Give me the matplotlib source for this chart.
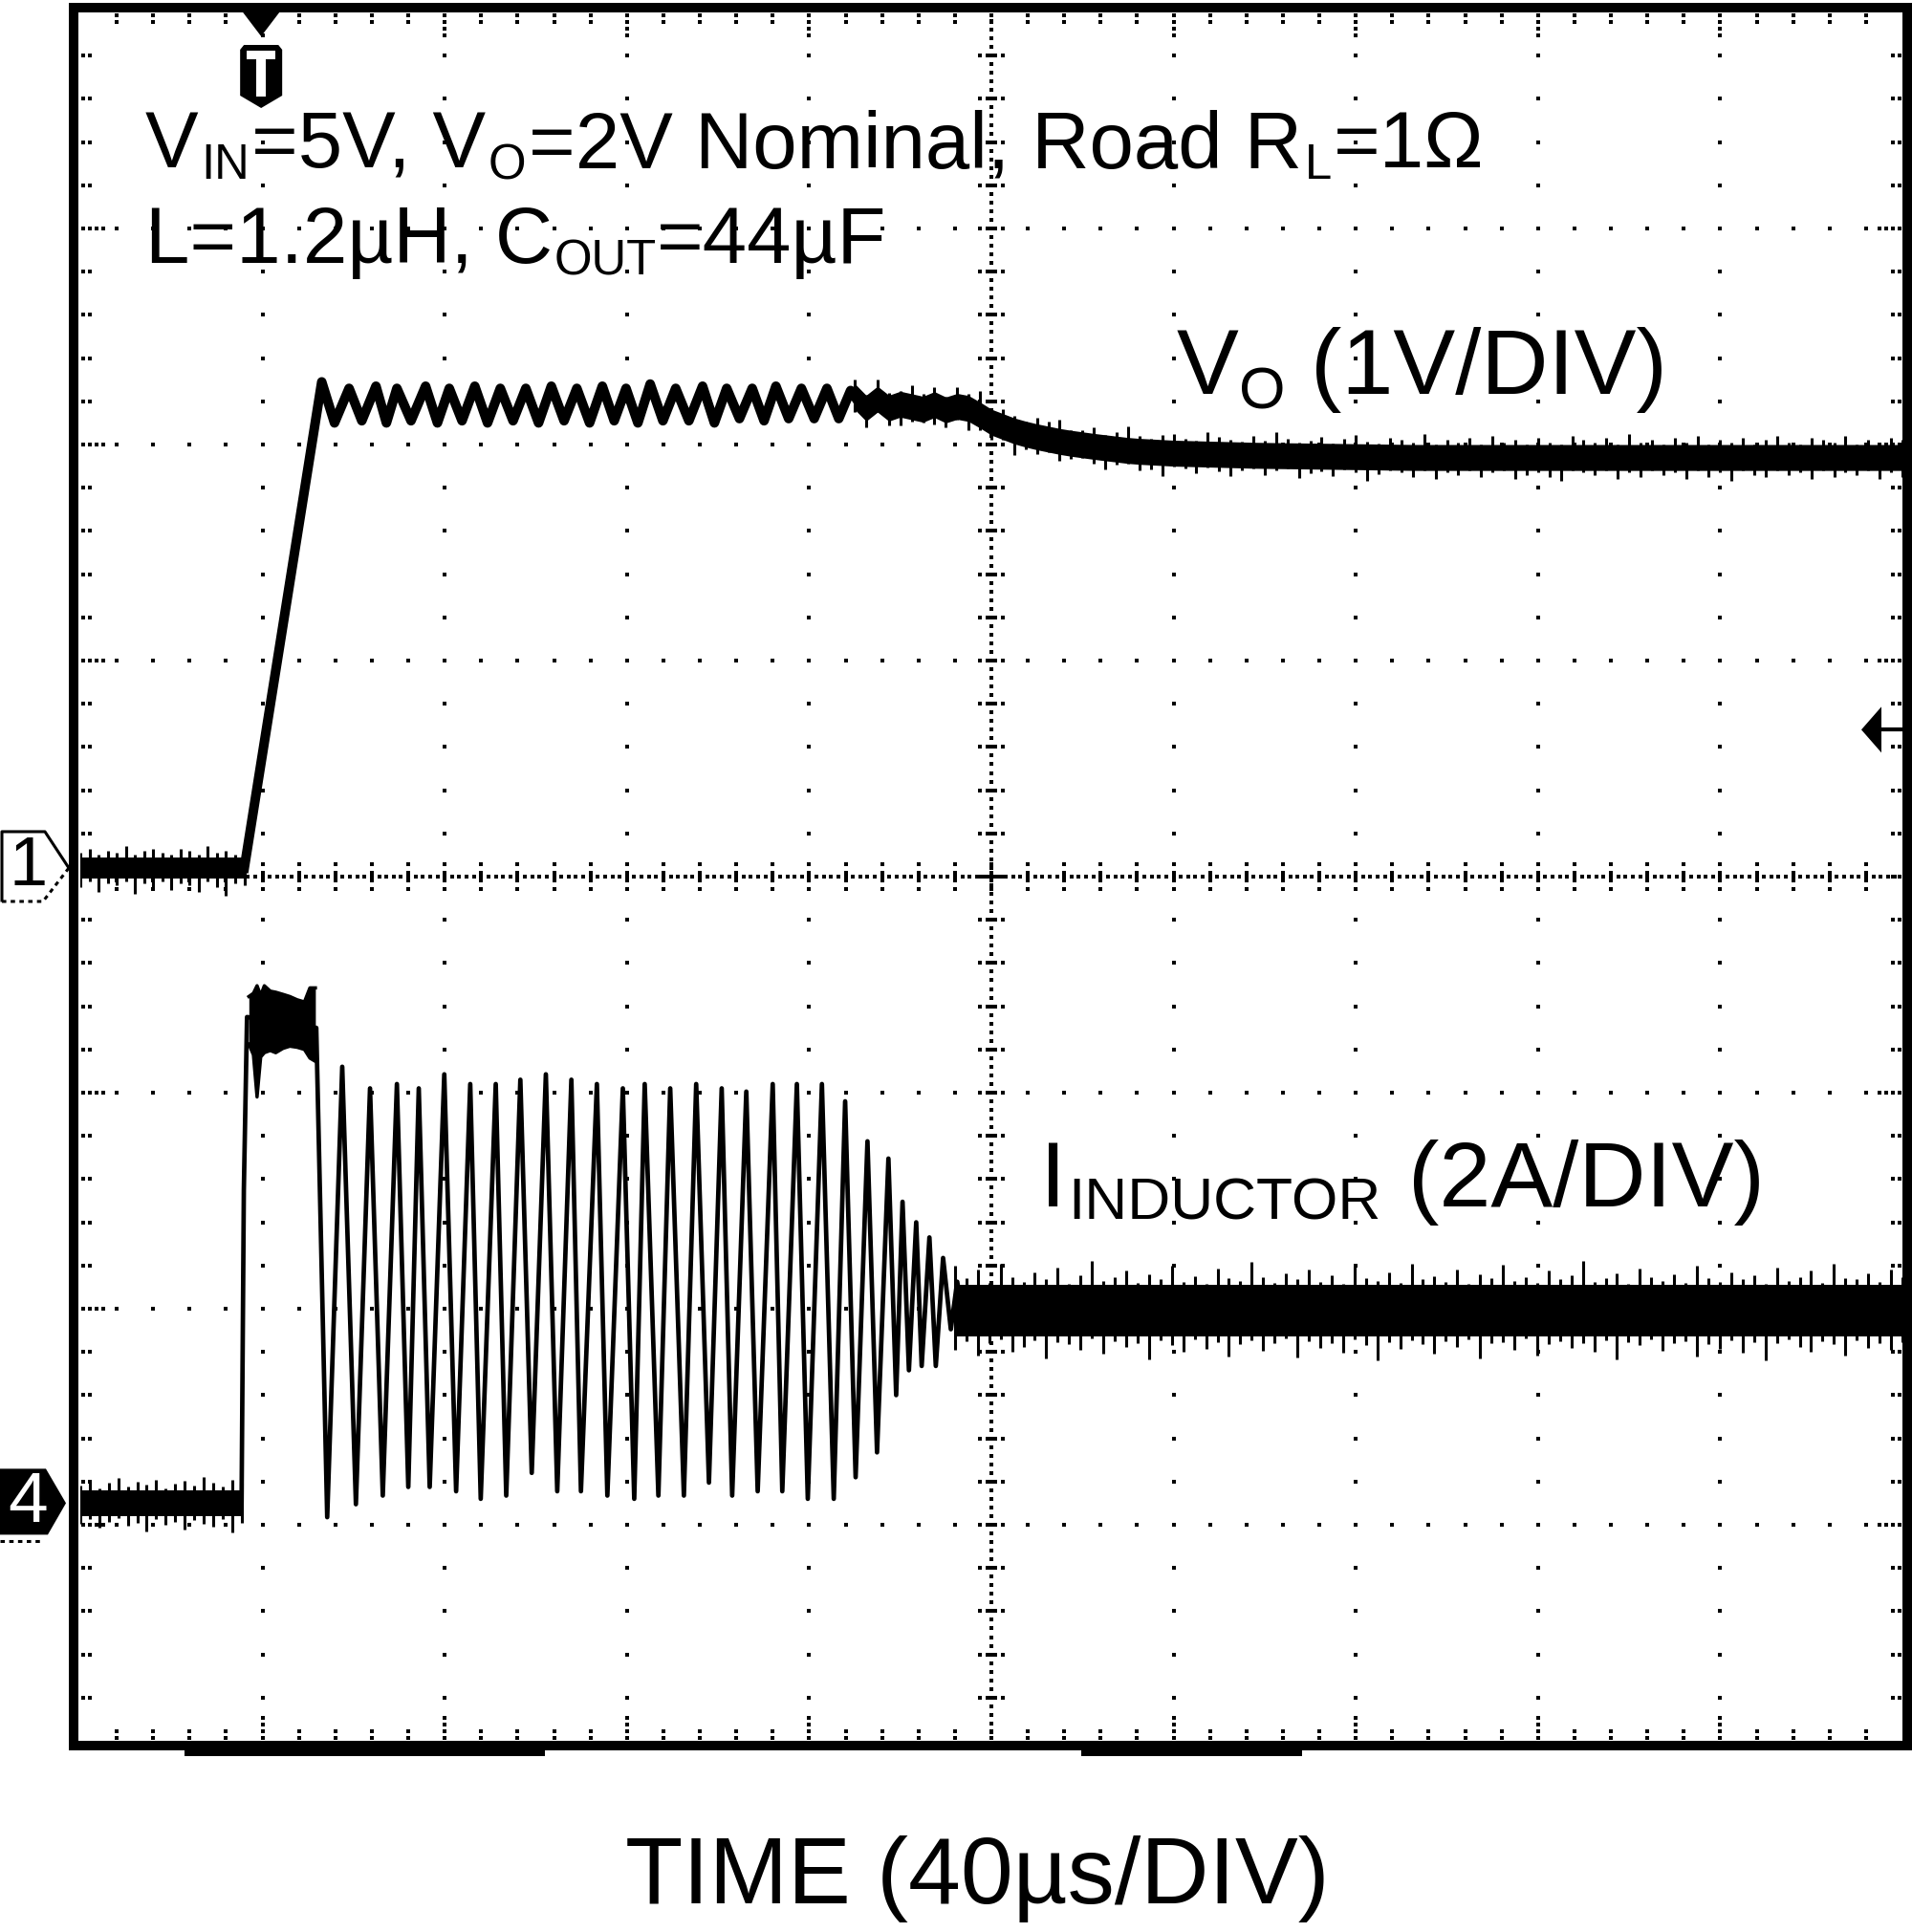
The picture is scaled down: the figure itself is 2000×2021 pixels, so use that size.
import numpy as np
import matplotlib
matplotlib.use("Agg")
import matplotlib.pyplot as plt
from matplotlib.patches import Polygon, Rectangle

plt.rcParams['font.family'] = ['Liberation Sans', 'DejaVu Sans']

# scope settings
CH1_OFFSET, VOLTS_PER_DIV = 4.04, 1.0     # divisions from bottom, V/div
CH4_OFFSET, AMPS_PER_DIV = 1.10, 2.0      # divisions from bottom, A/div
TRIGGER_T = 39.7                          # us

# ---- channel 1: output voltage (t in us, V) ----
vo_t = [36.0, 53.0, 55.8, 59.0, 61.8, 64.9, 67.2, 69.5, 72.6, 75.8, 78.4, 81.0,
        83.8, 86.6, 89.4, 92.2, 95.0, 97.8, 100.6, 103.4, 106.2, 109.0, 111.8,
        114.6, 117.2, 119.8, 122.4, 125.1, 127.9, 130.7, 133.6, 136.6, 139.2,
        141.9, 144.7, 147.5, 150.1, 152.7, 155.5, 158.3, 161.1, 163.9, 166.5,
        169.1, 172.0, 175.0, 178.0, 181.0, 184.0, 187.0, 190.0, 193.0, 196.0,
        199.2, 205.4, 209.0, 216.0, 223.0, 231.0, 240.0, 258.0, 293.0, 400.0]
vo_v = [0.0, 2.25, 2.06, 2.22, 2.07, 2.23, 2.06, 2.22, 2.07, 2.23, 2.06, 2.22,
        2.07, 2.23, 2.06, 2.22, 2.07, 2.22, 2.06, 2.23, 2.07, 2.22, 2.06,
        2.23, 2.07, 2.22, 2.06, 2.24, 2.07, 2.22, 2.07, 2.23, 2.06,
        2.22, 2.08, 2.22, 2.07, 2.23, 2.08, 2.22, 2.08, 2.22, 2.08,
        2.21, 2.12, 2.17, 2.12, 2.16, 2.11, 2.15, 2.12, 2.14, 2.12,
        2.07, 2.02, 2.00, 1.97, 1.95, 1.93, 1.92, 1.91, 1.90, 1.90]

# noise spread before the soft start (0..36 us) and on the settled tail (170..400 us)
vo_gnd_hi = [0.07, 0.09, 0.06, 0.08, 0.07, 0.10, 0.06, 0.08, 0.09, 0.07,
             0.06, 0.09, 0.08, 0.06, 0.10, 0.07, 0.08, 0.06, 0.09]
vo_gnd_lo = [0.09, 0.06, 0.11, 0.07, 0.08, 0.06, 0.12, 0.07, 0.09, 0.06,
             0.10, 0.07, 0.08, 0.11, 0.06, 0.09, 0.13, 0.07, 0.08]
vo_tail_hi = [0.08, 0.06, 0.09, 0.07, 0.06, 0.10, 0.07, 0.08, 0.06, 0.09,
              0.07, 0.11, 0.06, 0.08, 0.07, 0.06, 0.09, 0.08, 0.10, 0.06,
              0.07, 0.09, 0.06, 0.08, 0.11, 0.07, 0.06, 0.08, 0.09, 0.07,
              0.06, 0.10, 0.08, 0.07, 0.06, 0.09, 0.07, 0.11, 0.08, 0.06,
              0.07, 0.09, 0.06, 0.08, 0.10, 0.07, 0.06, 0.09, 0.08, 0.07,
              0.11, 0.06, 0.08, 0.07, 0.09, 0.06, 0.10, 0.07, 0.08, 0.06,
              0.09, 0.07, 0.06, 0.10, 0.08, 0.07, 0.09, 0.06, 0.11, 0.07,
              0.08, 0.06, 0.09, 0.07, 0.10, 0.06, 0.08, 0.07, 0.09, 0.06,
              0.08, 0.10, 0.07, 0.06, 0.09, 0.08, 0.07, 0.10, 0.06, 0.08,
              0.07, 0.09, 0.08]
vo_tail_lo = [0.07, 0.09, 0.06, 0.08, 0.10, 0.07, 0.06, 0.09, 0.08, 0.06,
              0.10, 0.07, 0.08, 0.06, 0.11, 0.07, 0.08, 0.06, 0.09, 0.07,
              0.06, 0.08, 0.10, 0.07, 0.06, 0.09, 0.08, 0.11, 0.06, 0.07,
              0.09, 0.06, 0.08, 0.10, 0.07, 0.06, 0.09, 0.07, 0.06, 0.10,
              0.08, 0.07, 0.09, 0.06, 0.07, 0.11, 0.08, 0.06, 0.07, 0.09,
              0.06, 0.10, 0.07, 0.08, 0.06, 0.09, 0.07, 0.06, 0.10, 0.08,
              0.07, 0.09, 0.11, 0.06, 0.07, 0.08, 0.06, 0.10, 0.07, 0.09,
              0.06, 0.08, 0.07, 0.10, 0.06, 0.09, 0.07, 0.11, 0.06, 0.08,
              0.09, 0.06, 0.08, 0.07, 0.10, 0.06, 0.09, 0.07, 0.08, 0.06,
              0.10, 0.07, 0.09]

# ---- channel 4: inductor current (t in us, A) ----
il_t = [0.0, 35.4, 35.9, 36.6, 51.8, 54.2,
        57.5, 60.5, 63.6, 66.4, 69.5, 72.0, 74.3, 76.7, 79.9, 82.5, 85.6, 87.9,
        91.2, 93.5, 96.6, 99.1, 102.2, 104.7, 107.8, 109.9, 113.4, 115.7,
        119.1, 121.6, 123.9, 126.9, 129.5, 132.5, 135.2, 138.0, 140.8, 143.1,
        146.2, 148.7, 152.0, 154.1, 157.3, 159.7, 162.8, 165.4, 167.9, 170.2,
        172.8, 174.9, 177.4, 179.1, 180.5, 181.9, 183.5, 184.7, 186.4, 187.8,
        189.4, 191.1, 192.5, 194.0, 195.5, 197.0, 200.0, 400.0]
il_a = [0.0, 0.0, 2.9, 4.5, 4.4, -0.13,
        4.04, -0.01, 3.84, 0.07, 3.88, 0.15, 3.84, 0.15, 3.97, 0.11, 3.88, 0.04,
        3.88, 0.07, 3.92, 0.28, 3.97, 0.11, 3.92, 0.11, 3.88, 0.07,
        3.84, 0.04, 3.88, 0.07, 3.84, 0.07, 3.88, 0.19, 3.84, 0.07,
        3.81, 0.11, 3.88, 0.11, 3.88, 0.04, 3.88, 0.04, 3.72, 0.24,
        3.35, 0.47, 3.19, 1.00, 2.79, 1.23, 2.60, 1.27, 2.46, 1.27,
        2.27, 1.61, 2.05, 1.65, 1.95, 1.75, 1.78, 1.78]

# current-limit plateau right after the start
ih_t = [37.0, 38.0, 38.8, 39.6, 40.4, 41.7, 42.9, 44.5, 46.0, 47.6, 49.2, 50.4, 51.6]
ih_top = [4.69, 4.72, 4.79, 4.70, 4.79, 4.74, 4.73, 4.71, 4.69, 4.66, 4.64, 4.77, 4.77]
ih_bot = [4.25, 4.15, 3.76, 4.13, 4.17, 4.19, 4.17, 4.21, 4.23, 4.22, 4.20, 4.12, 4.09]

il_gnd_hi = [0.16, 0.21, 0.14, 0.19, 0.23, 0.15, 0.20, 0.17, 0.22, 0.14,
             0.18, 0.21, 0.16, 0.24, 0.19, 0.15, 0.22, 0.18]
il_gnd_lo = [0.19, 0.15, 0.23, 0.17, 0.14, 0.21, 0.18, 0.26, 0.15, 0.20,
             0.17, 0.24, 0.16, 0.19, 0.22, 0.15, 0.27, 0.18]
il_tail_hi = [0.42, 0.30, 0.38, 0.26, 0.44, 0.31, 0.27, 0.36, 0.29, 0.40,
              0.25, 0.33, 0.46, 0.28, 0.31, 0.37, 0.26, 0.34, 0.29, 0.42,
              0.27, 0.32, 0.25, 0.39, 0.30, 0.28, 0.45, 0.31, 0.26, 0.35,
              0.29, 0.38, 0.27, 0.33, 0.25, 0.41, 0.30, 0.28, 0.36, 0.26,
              0.44, 0.29, 0.32, 0.27, 0.38, 0.25, 0.34, 0.30, 0.43, 0.28,
              0.31, 0.26, 0.37, 0.29, 0.33, 0.46, 0.27, 0.30, 0.35, 0.25,
              0.39, 0.31, 0.28, 0.34, 0.26, 0.42, 0.30, 0.27, 0.36, 0.29,
              0.33, 0.25, 0.40, 0.28, 0.31, 0.37, 0.26, 0.44, 0.30, 0.29,
              0.35, 0.27, 0.38, 0.31]
il_tail_lo = [0.36, 0.28, 0.41, 0.30, 0.26, 0.38, 0.33, 0.27, 0.44, 0.29,
              0.31, 0.36, 0.25, 0.40, 0.28, 0.33, 0.30, 0.45, 0.27, 0.32,
              0.38, 0.26, 0.35, 0.29, 0.42, 0.31, 0.27, 0.37, 0.30, 0.25,
              0.43, 0.28, 0.34, 0.30, 0.39, 0.26, 0.32, 0.46, 0.29, 0.35,
              0.27, 0.31, 0.40, 0.28, 0.33, 0.26, 0.44, 0.30, 0.29, 0.36,
              0.25, 0.41, 0.31, 0.28, 0.34, 0.30, 0.38, 0.27, 0.45, 0.29,
              0.32, 0.26, 0.37, 0.30, 0.28, 0.42, 0.31, 0.35, 0.27, 0.39,
              0.29, 0.46, 0.30, 0.26, 0.33, 0.38, 0.28, 0.31, 0.41, 0.27,
              0.34, 0.30, 0.36, 0.29]

# ---------------------------------------------------------------------------
W, H = 2000, 2021
fig = plt.figure(figsize=(W / 100, H / 100), dpi=100)
fig.patch.set_facecolor('white')

GX0, GX1, GY0, GY1 = 84, 1990, 13, 1821      # graticule box in pixels
ax = fig.add_axes([GX0 / W, 1 - GY1 / H, (GX1 - GX0) / W, (GY1 - GY0) / H])
ax.set_xlim(0, 400)
ax.set_ylim(0, 8)
ax.axis('off')

PT = 400 / (GX1 - GX0)   # us per pixel
PY = 8 / (GY1 - GY0)     # div per pixel


def fp(pts):
    return [(x / W, 1 - y / H) for x, y in pts]


# ---- graticule ----
gx, gy = [], []
for k in range(1, 10):
    if k == 5:
        continue
    for j in range(1, 40):
        gx.append(40 * k); gy.append(0.2 * j)
    for d in (17, 24):
        gx += [40 * k, 40 * k]; gy += [d * PY, 8 - d * PY]
for k in range(1, 8):
    if k == 4:
        continue
    for j in range(1, 50):
        gx.append(8 * j); gy.append(k)
    for d in (17, 24):
        gx += [d * PT, 400 - d * PT]; gy += [k, k]
for j in range(1, 50):
    for d in (3, 10):
        gx += [8 * j, 8 * j]; gy += [d * PY, 8 - d * PY]
for j in range(1, 40):
    for d in (3, 10):
        gx += [d * PT, 400 - d * PT]; gy += [0.2 * j, 0.2 * j]
# centre cross-hair, finely dotted with small ticks
for j in range(1, 250):
    gx.append(1.6 * j); gy.append(4)
for j in range(1, 200):
    gx.append(200); gy.append(0.04 * j)
for j in range(1, 50):
    for d in (-13, -4, 4, 13):
        gx.append(8 * j); gy.append(4 + d * PY)
for j in range(1, 40):
    for d in (-12, -4, 4, 12):
        gx.append(200 + d * PT); gy.append(0.2 * j)
ax.plot(gx, gy, 's', color='black', ms=2.7, mew=0, zorder=1)


# ---- waveforms ----
def ch1(v):
    return CH1_OFFSET + np.asarray(v) / VOLTS_PER_DIV


def ch4(a):
    return CH4_OFFSET + np.asarray(a) / AMPS_PER_DIV


def noisy(t, center, hi, lo, core, conv):
    ax.fill_between(t, conv(center - core), conv(center + core), color='black', lw=0, zorder=3)
    ax.vlines(t, conv(center - np.asarray(lo)), conv(center + np.asarray(hi)),
              color='black', lw=2.2, zorder=3)


# Ch1 - output voltage
t = np.linspace(0, 36, len(vo_gnd_hi))
noisy(t, np.zeros_like(t), vo_gnd_hi, vo_gnd_lo, 0.05, ch1)
ax.plot(vo_t, ch1(vo_v), color='black', lw=7.2, solid_joinstyle='round', zorder=3)
t = np.linspace(170, 400, len(vo_tail_hi))
noisy(t, np.interp(t, vo_t, vo_v), vo_tail_hi, vo_tail_lo, 0.06, ch1)

# Ch4 - inductor current
t = np.linspace(0, 35.4, len(il_gnd_hi))
noisy(t, np.zeros_like(t), il_gnd_hi, il_gnd_lo, 0.12, ch4)
ax.fill_between(ih_t, ch4(ih_bot), ch4(ih_top), color='black', lw=0, zorder=3)
ax.plot(ih_t, ch4(ih_top), color='black', lw=2.5, zorder=3)
ax.plot(ih_t, ch4(ih_bot), color='black', lw=2.5, zorder=3)
ax.plot(il_t, ch4(il_a), color='black', lw=3.4, zorder=3)
t = np.linspace(192, 400, len(il_tail_hi))
noisy(t, np.full_like(t, 1.78), il_tail_hi, il_tail_lo, 0.24, ch4)

# ---- frame ----
fig.add_artist(Rectangle((77 / W, 1 - 1826 / H), (1995 - 77) / W, (1826 - 8) / H,
                         transform=fig.transFigure, fill=False, lw=7.2,
                         edgecolor='black', joinstyle='miter', zorder=10))
for x0, x1 in [(193, 570), (1131, 1362)]:
    fig.add_artist(Rectangle((x0 / W, 1 - 1837 / H), (x1 - x0) / W, 11 / H,
                             transform=fig.transFigure, color='black', lw=0))

# ---- trigger markers ----
tx = GX0 + TRIGGER_T / PT
fig.add_artist(Polygon(fp([(tx - 19, 13), (tx + 19, 13), (tx, 38)]),
                       transform=fig.transFigure, color='black', lw=0))
fig.add_artist(Polygon(fp([(tx - 22, 52), (tx - 18, 47), (tx + 18, 47), (tx + 22, 52),
                           (tx + 22, 100), (tx, 113), (tx - 22, 100)]),
                       transform=fig.transFigure, color='black', lw=0))
fig.add_artist(Polygon(fp([(tx - 15, 53), (tx + 15, 53), (tx + 15, 62), (tx + 5, 62),
                           (tx + 5, 101), (tx - 5, 101), (tx - 5, 62), (tx - 15, 62)]),
                       transform=fig.transFigure, color='white', lw=0))

# trigger level arrow on the right
ly = GY1 - 4.68 / PY
fig.add_artist(Polygon(fp([(1947, ly), (1968, ly - 24), (1968, ly + 24)]),
                       transform=fig.transFigure, color='black', lw=0))
fig.add_artist(plt.Line2D([1968 / W, 1990 / W], [1 - ly / H] * 2, transform=fig.transFigure,
                          color='black', lw=3))

# ---- channel ground markers ----
y1 = GY1 - CH1_OFFSET / PY
fig.add_artist(plt.Line2D([2 / W, 2 / W, 47 / W, 72 / W],
                          [1 - (y1 + 34) / H, 1 - (y1 - 38) / H, 1 - (y1 - 38) / H, 1 - y1 / H],
                          transform=fig.transFigure, color='black', lw=2.2))
fig.add_artist(plt.Line2D([2 / W, 45 / W, 72 / W],
                          [1 - (y1 + 35) / H, 1 - (y1 + 35) / H, 1 - y1 / H],
                          transform=fig.transFigure, color='black', lw=2.2, ls=(0, (1.5, 1.5))))
fig.text(30 / W, 1 - y1 / H, '1', fontsize=52, ha='center', va='center', color='black')

y4 = GY1 - CH4_OFFSET / PY
fig.add_artist(Polygon(fp([(0, y4 - 36), (48, y4 - 36), (69, y4), (50, y4 + 33), (0, y4 + 33)]),
                       transform=fig.transFigure, color='black', lw=0))
fig.add_artist(plt.Line2D([0, 45 / W], [1 - (y4 + 40) / H] * 2, transform=fig.transFigure,
                          color='black', lw=2.2, ls=(0, (1.5, 1.5))))
fig.text(29 / W, 1 - y4 / H, '4', fontsize=54, ha='center', va='center', color='white')

# ---- annotations (subscripts set as smaller, lowered runs) ----
renderer = fig.canvas.get_renderer()


def rich(x, y, parts, size, sub=0.61, drop=12, gap=2.5):
    for s, is_sub in parts:
        fs = size * sub if is_sub else size
        txt = fig.text(x / W, 1 - (y + (drop if is_sub else 0)) / H, s,
                       fontsize=fs, va='baseline', ha='left')
        n_trail = len(s) - len(s.rstrip(' '))
        x += txt.get_window_extent(renderer).width + n_trail * 0.278 * fs * 100 / 72 + gap


rich(152, 175, [('V', 0), ('IN', 1), ('=5V, V', 0), ('O', 1), ('=2V Nominal, Road R', 0),
                ('L', 1), ('=1Ω', 0)], 60)
rich(152, 275, [('L=1.2µH, C', 0), ('OUT', 1), ('=44µF', 0)], 60, gap=1)
rich(1231, 412, [('V', 0), ('O', 1), (' (1V/DIV)', 0)], 70, sub=0.64, drop=15, gap=0)
rich(1088, 1262, [('I', 0), ('INDUCTOR', 1), (' (2A/DIV)', 0)], 70, sub=0.64, drop=13, gap=2)
fig.text(1022 / W, 1 - 1991 / H, 'TIME (40µs/DIV)', fontsize=71, va='baseline', ha='center')

fig.savefig('out.png', dpi=100, facecolor='white')
